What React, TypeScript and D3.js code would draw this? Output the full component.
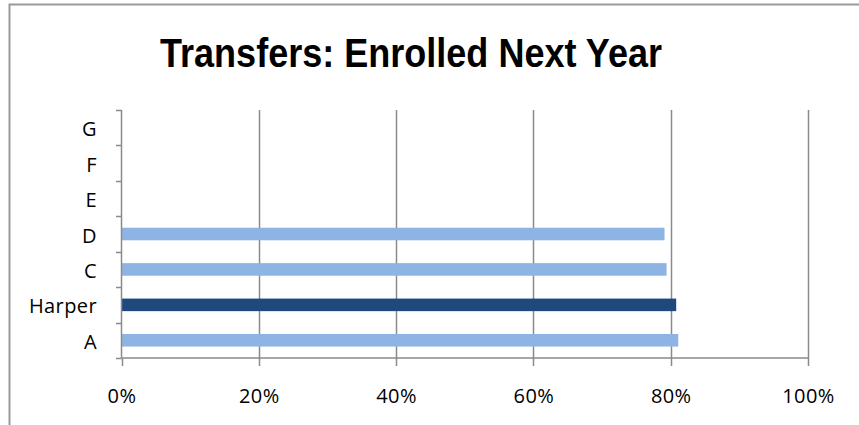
import React from "react";
import * as d3 from "d3";

const categories = ["A", "Harper", "C", "D", "E", "F", "G"];
const values: (number | null)[] = [0.811, 0.808, 0.794, 0.791, null, null, null];
const highlight = ["Harper"];
const xTicks = [0, 0.2, 0.4, 0.6, 0.8, 1.0];
const title = "Transfers: Enrolled Next Year";

export default function App() {
  const W = 859, H = 425;
  const left = 121.5, right = 808, top = 110, bottom = 358;
  const x = d3.scaleLinear().domain([0, 1]).range([left, right]);
  const y = d3.scaleBand().domain(categories.slice().reverse()).range([top, bottom]).paddingInner(0.645).paddingOuter(0.3225);
  const yb = d3.scaleBand().domain(categories.slice().reverse()).range([top, bottom]);
  const grid = "#8a8a8a";
  const font = "'Liberation Sans', Arial, sans-serif";
  const lfont = "'Open Sans', 'Liberation Sans', sans-serif";
  return (
    <svg width={W} height={H} style={{ position: "absolute", left: 0, top: 0 }}>
      <rect x={0} y={0} width={W} height={H} fill="#fff" />
      <path d={`M9.5,${H} V4.5 H${W}`} fill="none" stroke="#9a9a9a" strokeWidth={2} />
      <text x={411} y={67} textAnchor="middle" fontFamily={font} fontWeight="bold" fontSize={40} textLength={502} lengthAdjust="spacingAndGlyphs" fill="#000">{title}</text>
      {xTicks.map((t) => (
        <g key={t}>
          {t > 0 && <line x1={Math.round(x(t)) + 0.5} x2={Math.round(x(t)) + 0.5} y1={top} y2={bottom} stroke={grid} strokeWidth={1.5} />}
          <line x1={Math.round(x(t)) + 0.5} x2={Math.round(x(t)) + 0.5} y1={bottom} y2={bottom + 8} stroke={grid} strokeWidth={1.5} />
          <text x={x(t) + 0.5} y={403} textAnchor="middle" fontFamily={lfont} fontSize={20} letterSpacing={0.4} fill="#000">{d3.format(".0%")(t)}</text>
        </g>
      ))}
      {categories.map((c, i) => {
        const v = values[i];
        return (
          <g key={c}>
            {v != null && (
              <rect x={x(0)} y={y(c)!} width={x(v) - x(0)} height={y.bandwidth()} fill={highlight.includes(c) ? "#1f497d" : "#8eb4e3"} />
            )}
            <text x={97} y={yb(c)! + yb.bandwidth() / 2 + 8.5} textAnchor="end" fontFamily={lfont} fontSize={20} letterSpacing={0.4} fill="#000">{c}</text>
          </g>
        );
      })}
      {categories.concat(["_"]).map((c, i) => {
        const yy = top + i * yb.step();
        return <line key={"t" + i} x1={116} x2={left} y1={Math.round(yy) + 0.5} y2={Math.round(yy) + 0.5} stroke={grid} strokeWidth={1.5} />;
      })}
      <line x1={left} x2={left} y1={top} y2={bottom} stroke={grid} strokeWidth={1.5} />
      <line x1={left} x2={right} y1={bottom} y2={bottom} stroke={grid} strokeWidth={1.5} />
    </svg>
  );
}
